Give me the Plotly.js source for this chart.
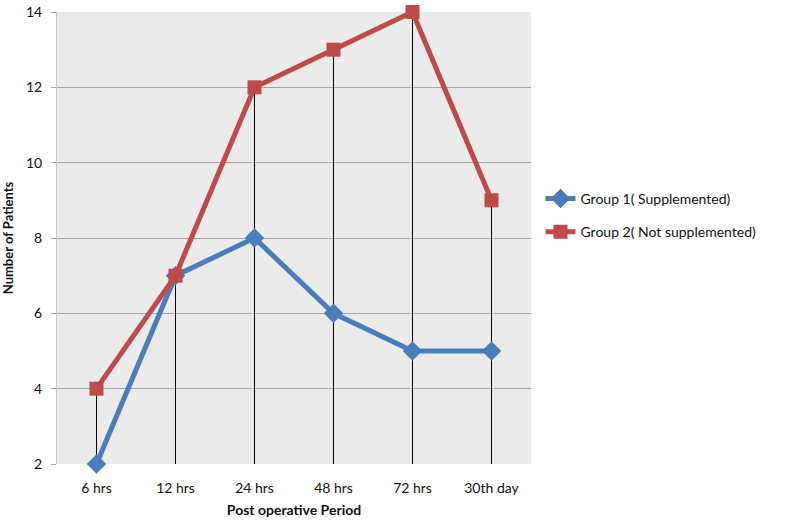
<!DOCTYPE html>
<html>
<head>
<meta charset="utf-8">
<script src="https://cdn.plot.ly/plotly-3.0.1.min.js"></script>
<style>
  html, body { margin: 0; padding: 0; background: #fff; }
  #chart { width: 785px; height: 524px; }
</style>
</head>
<body>
<div id="chart"></div>
<script>
// Data
const periods = ['6 hrs', '12 hrs', '24 hrs', '48 hrs', '72 hrs', '30th day'];
const group1 = [2, 7, 8, 6, 5, 5];
const group2 = [4, 7, 12, 13, 14, 9];
const yTicks = [2, 4, 6, 8, 10, 12, 14];

const yMin = 2;
const yMax = 14;

// Drop lines from the higher point of each category down to the axis
const dropX = [];
const dropY = [];
for (let i = 0; i < periods.length; i++) {
    dropX.push(periods[i], periods[i], null);
    dropY.push(Math.max(group1[i], group2[i]), yMin, null);
}

const font = 'Lato, "Open Sans", sans-serif';

const data = [
    {
        x: dropX,
        y: dropY,
        type: 'scatter',
        mode: 'lines',
        line: { color: '#000', width: 1 },
        hoverinfo: 'skip',
        showlegend: false,
        connectgaps: false,
    },
    {
        x: periods,
        y: group1,
        type: 'scatter',
        mode: 'lines+markers',
        name: 'Group 1( Supplemented)',
        legendgroup: 'g1',
        line: { color: '#4a7ebb', width: 5 },
        marker: { symbol: 'diamond', size: 15, color: '#4a7ebb' },
        cliponaxis: false,
    },
    {
        x: periods,
        y: group2,
        type: 'scatter',
        mode: 'lines+markers',
        name: 'Group 2( Not supplemented)',
        legendgroup: 'g2',
        line: { color: '#be4b48', width: 5 },
        marker: { symbol: 'square', size: 14, color: '#be4b48' },
        cliponaxis: false,
    },
];

const layout = {
    width: 785,
    height: 524,
    margin: { l: 57, r: 254, t: 12, b: 60 },
    paper_bgcolor: '#fff',
    plot_bgcolor: '#ebebeb',
    font: { family: font, size: 14, color: '#111' },
    xaxis: {
        type: 'category',
        range: [-0.5, 5.5],
        showgrid: false,
        zeroline: false,
        showline: false,
        ticks: '',
        ticklabelstandoff: 14,
        tickfont: { size: 14 },
        title: { text: '<b>Post operative Period</b>', font: { size: 14 }, standoff: 10 },
    },
    yaxis: {
        range: [yMin, yMax],
        tickvals: yTicks,
        showgrid: true,
        gridcolor: '#a6a6a6',
        gridwidth: 1,
        zeroline: false,
        showline: true,
        linecolor: '#c8c8c8',
        ticks: 'outside',
        ticklen: 5,
        tickcolor: '#a6a6a6',
        ticklabelstandoff: 6,
        tickfont: { size: 14 },
        title: { text: '<b>Number of Patients</b>', font: { size: 13 }, standoff: 12 },
    },
    legend: {
        x: 1.02,
        y: 0.55,
        xanchor: 'left',
        yanchor: 'middle',
        font: { size: 14 },
        bgcolor: 'rgba(0,0,0,0)',
        tracegroupgap: 12,
        itemwidth: 30,
    },
    showlegend: true,
};

Plotly.newPlot('chart', data, layout, { displayModeBar: false, staticPlot: true });
</script>
</body>
</html>
